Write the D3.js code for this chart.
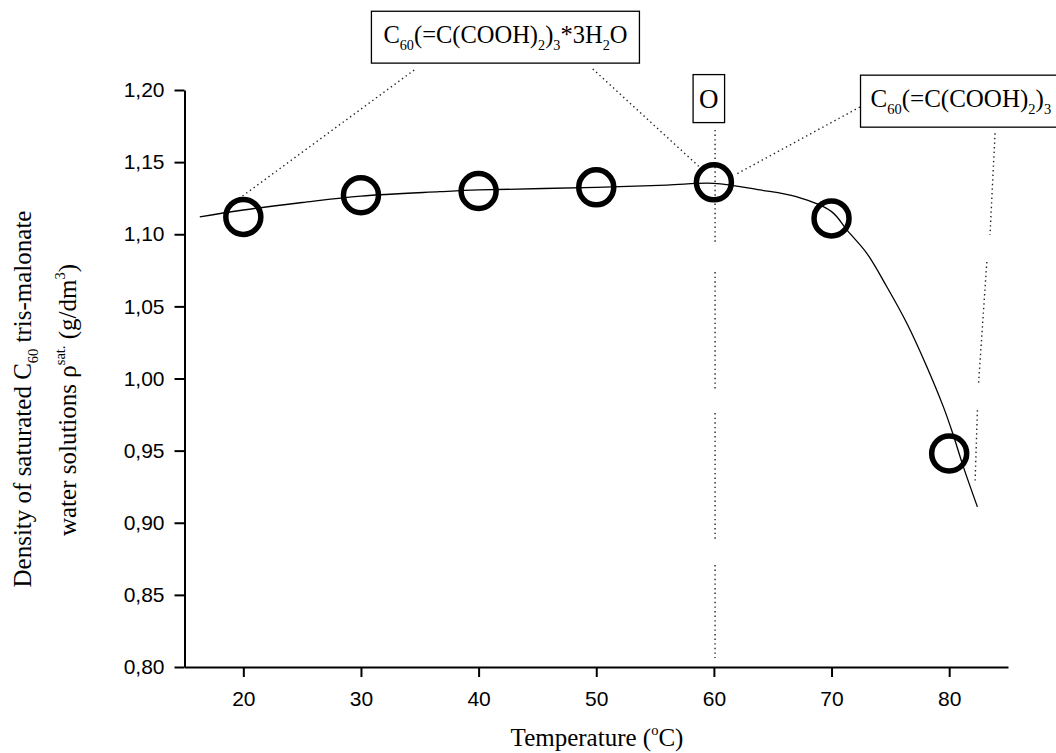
<!DOCTYPE html>
<html>
<head>
<meta charset="utf-8">
<script src="https://cdn.jsdelivr.net/npm/d3@7"></script>
<style>
  body { margin: 0; background: #fff; }
  text { fill: #000; }
</style>
</head>
<body>
<div id="chart"></div>
<script>
// measured points
const temps = [20, 30, 40, 50, 60, 70, 80]
const density = [1.112, 1.127, 1.130, 1.1325, 1.136, 1.111, 0.948]

// fitted curve
const fitT = [16.3, 20, 25, 30, 36.7, 40, 50, 56, 60, 63.9, 67, 70, 71.3, 73, 74.7, 76.4, 78.1, 79.5, 80.3, 81.2, 82.4]
const fitD = [1.112, 1.1168, 1.122, 1.1265, 1.1295, 1.1307, 1.1325, 1.1341, 1.1353, 1.1307, 1.126, 1.1157, 1.103, 1.0868, 1.0636, 1.0383, 1.0082, 0.9805, 0.962, 0.9389, 0.911]

// axis ticks
const xMajor = [20, 30, 40, 50, 60, 70, 80]
const xMinor = [15, 25, 35, 45, 55, 65, 75, 85]
const yMajor = [0.80, 0.85, 0.90, 0.95, 1.00, 1.05, 1.10, 1.15, 1.20]
const yMinor = [0.825, 0.875, 0.925, 0.975, 1.025, 1.075, 1.125, 1.175]

// annotation leader lines (data coords, dotted)
const leaders = [
  [[19.93, 1.1265], [34.65, 1.2146]],
  [[49.7, 1.2146], [59.06, 1.1445]],
  [[72.41, 1.1882], [61.78, 1.1411]],
  [[60.1, 1.1723], [60.1, 1.0946]],
  [[60.1, 1.0738], [60.1, 0.992]],
  [[60.1, 0.976], [60.1, 0.888]],
  [[60.1, 0.8707], [60.1, 0.8062]],
  [[83.9, 1.170], [83.47, 1.0995]],
  [[83.2, 1.0808], [82.5, 0.9969]],
  [[82.4, 0.978], [82.2, 0.928]]
]

// annotation labels: anchor is the baseline centre
const labelT = [42.28, 59.57, 80.99]
const labelD = [1.2324, 1.1878, 1.1881]
const labelParts = [
  [['C'], ['60', 'sub'], ['(=C(COOH)'], ['2', 'sub'], [')'], ['3', 'sub'], ['*3H'], ['2', 'sub'], ['O']],
  [['O']],
  [['C'], ['60', 'sub'], ['(=C(COOH)'], ['2', 'sub'], [')'], ['3', 'sub']]
]

const W = 1056, H = 753
const margin = {top: 90, right: 48, bottom: 86, left: 184.5}

const svg = d3.select('#chart').append('svg')
  .attr('width', W)
  .attr('height', H)

const x = d3.scaleLinear().domain([15, 85]).range([margin.left, W - margin.right])
const y = d3.scaleLinear().domain([0.8, 1.2]).range([H - margin.bottom, margin.top])

const serif = '"Liberation Serif", "Times New Roman", serif'
const sans = '"Liberation Sans", Arial, sans-serif'

// writes parts with sub/superscripts into a text element
function rich(sel, parts, fs) {
  var shift = 0
  parts.forEach(function (p) {
    var target = p[1] == 'sub' ? 0.28 * fs : p[1] == 'sup' ? -0.45 * fs : 0
    sel.append('tspan')
      .attr('dy', target - shift)
      .style('font-size', p[1] ? (fs * 0.58) + 'px' : fs + 'px')
      .text(p[0])
    shift = target
  })
}

// axes
const fmt = d => d3.format('.2f')(d).replace('.', ',')

const gx = svg.append('g').attr('transform', 'translate(0,' + y(0.8) + ')')
gx.call(d3.axisBottom(x).tickValues(xMinor).tickSize(6).tickFormat(''))
gx.call(d3.axisBottom(x).tickValues(xMajor).tickSize(10).tickSizeOuter(0).tickPadding(14))

const gy = svg.append('g').attr('transform', 'translate(' + x(15) + ',0)')
gy.call(d3.axisLeft(y).tickValues(yMinor).tickSize(6).tickFormat(''))
gy.call(d3.axisLeft(y).tickValues(yMajor).tickSize(10).tickSizeOuter(0).tickPadding(10).tickFormat(fmt))

svg.selectAll('.domain, .tick line').attr('stroke', '#000').attr('stroke-width', 2)
svg.selectAll('.tick text').style('font-family', sans).style('font-size', '21px').attr('fill', '#000')

// leader lines
svg.append('g').selectAll('line')
  .data(leaders)
  .join('line')
  .attr('x1', d => x(d[0][0])).attr('y1', d => y(d[0][1]))
  .attr('x2', d => x(d[1][0])).attr('y2', d => y(d[1][1]))
  .attr('stroke', '#222')
  .attr('stroke-width', 1.4)
  .attr('stroke-dasharray', '1.4,3.2')

// fit curve
const line = d3.line()
  .curve(d3.curveCatmullRom.alpha(0.5))
  .x((d, i) => x(fitT[i]))
  .y(d => y(d))

svg.append('path')
  .attr('d', line(fitD))
  .attr('fill', 'none')
  .attr('stroke', '#000')
  .attr('stroke-width', 1.3)

// points
svg.append('g').selectAll('circle')
  .data(density)
  .join('circle')
  .attr('cx', (d, i) => x(temps[i]))
  .attr('cy', d => y(d))
  .attr('r', 17.5)
  .attr('fill', 'none')
  .attr('stroke', '#000')
  .attr('stroke-width', 5.5)

// boxed labels
const labelSize = [24.5, 27, 25]
const labelPad = [[12, 10], [6, 9], [10, 10]]
labelParts.forEach(function (parts, i) {
  var g = svg.append('g')
  var t = g.append('text')
    .attr('x', x(labelT[i]))
    .attr('y', y(labelD[i]))
    .attr('text-anchor', 'middle')
    .style('font-family', serif)
  rich(t, parts, labelSize[i])
  var b = t.node().getBBox()
  g.insert('rect', 'text')
    .attr('x', b.x - labelPad[i][0])
    .attr('y', b.y - labelPad[i][1])
    .attr('width', b.width + 2 * labelPad[i][0])
    .attr('height', b.height + 2 * labelPad[i][1])
    .attr('fill', '#fff')
    .attr('stroke', '#000')
    .attr('stroke-width', 1.3)
})

// axis titles
const xt = svg.append('text')
  .attr('x', 597)
  .attr('y', 746)
  .attr('text-anchor', 'middle')
  .style('font-family', serif)
rich(xt, [['Temperature ('], ['o', 'sup'], ['C)']], 25)

const yt1 = svg.append('text')
  .attr('transform', 'translate(31,399) rotate(-90)')
  .attr('text-anchor', 'middle')
  .style('font-family', serif)
rich(yt1, [['Density of saturated C'], ['60', 'sub'], [' tris-malonate']], 25)

const yt2 = svg.append('text')
  .attr('transform', 'translate(76,400) rotate(-90)')
  .attr('text-anchor', 'middle')
  .style('font-family', serif)
rich(yt2, [['water solutions ρ'], ['sat.', 'sup'], [' (g/dm'], ['3', 'sup'], [')']], 25)
</script>
</body>
</html>
